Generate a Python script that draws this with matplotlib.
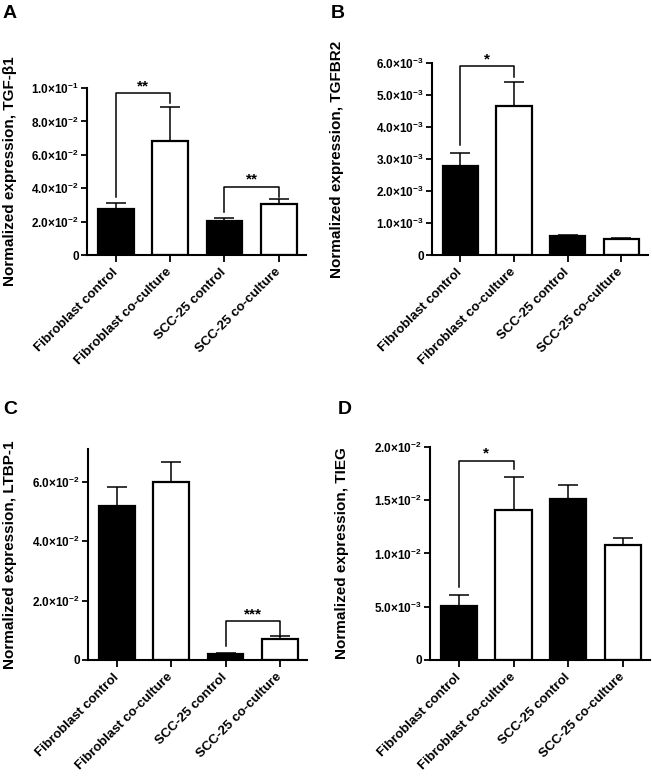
import numpy as np
import matplotlib
matplotlib.use("Agg")
import matplotlib.pyplot as plt

plt.rcParams['font.family'] = ['Liberation Sans', 'DejaVu Sans']
plt.rcParams['font.weight'] = 'bold'
plt.rcParams['mathtext.fontset'] = 'custom'
plt.rcParams['mathtext.rm'] = 'Liberation Sans:bold'
plt.rcParams['mathtext.bf'] = 'Liberation Sans:bold'
plt.rcParams['mathtext.it'] = 'Liberation Sans:bold'

grupos = ['Fibroblast control', 'Fibroblast co-culture', 'SCC-25 control', 'SCC-25 co-culture']
cores = ['black', 'white', 'black', 'white']

# TGF-b1
tgfb1_media = [0.0275, 0.0683, 0.0204, 0.0305]
tgfb1_erro = [0.0035, 0.0203, 0.0018, 0.0030]
tgfb1_ticks = [0, 0.02, 0.04, 0.06, 0.08, 0.10]
tgfb1_rotulos = ['0', r'$2.0{\times}10^{-2}$', r'$4.0{\times}10^{-2}$', r'$6.0{\times}10^{-2}$',
                 r'$8.0{\times}10^{-2}$', r'$1.0{\times}10^{-1}$']

# TGFBR2
tgfbr2_media = [2.78e-3, 4.66e-3, 0.60e-3, 0.50e-3]
tgfbr2_erro = [0.41e-3, 0.75e-3, 0.03e-3, 0.03e-3]
tgfbr2_ticks = [0, 1e-3, 2e-3, 3e-3, 4e-3, 5e-3, 6e-3]
tgfbr2_rotulos = ['0', r'$1.0{\times}10^{-3}$', r'$2.0{\times}10^{-3}$', r'$3.0{\times}10^{-3}$',
                  r'$4.0{\times}10^{-3}$', r'$5.0{\times}10^{-3}$', r'$6.0{\times}10^{-3}$']

# LTBP-1
ltbp1_media = [0.0518, 0.0598, 0.0021, 0.0071]
ltbp1_erro = [0.0064, 0.0068, 0.0002, 0.0009]
ltbp1_ticks = [0, 0.02, 0.04, 0.06]
ltbp1_rotulos = ['0', r'$2.0{\times}10^{-2}$', r'$4.0{\times}10^{-2}$', r'$6.0{\times}10^{-2}$']

# TIEG
tieg_media = [5.05e-3, 14.06e-3, 15.1e-3, 10.8e-3]
tieg_erro = [1.05e-3, 3.1e-3, 1.35e-3, 0.65e-3]
tieg_ticks = [0, 5e-3, 10e-3, 15e-3, 20e-3]
tieg_rotulos = ['0', r'$5.0{\times}10^{-3}$', r'$1.0{\times}10^{-2}$', r'$1.5{\times}10^{-2}$',
                r'$2.0{\times}10^{-2}$']

# colchetes de significancia: (i, j, altura, base esquerda, base direita, texto)
tgfb1_sig = [(0, 1, 0.097, 0.0347, 0.091, '**'), (2, 3, 0.041, 0.0257, 0.0347, '**')]
tgfbr2_sig = [(0, 1, 5.9e-3, 3.44e-3, 5.56e-3, '*')]
ltbp1_sig = [(2, 3, 0.013, 0.0047, 0.0081, '***')]
tieg_sig = [(0, 1, 18.7e-3, 6.9e-3, 17.9e-3, '*')]


def painel(ax, media, erro, ticks, rotulos, ymax, ylabel, sig, xlab):
    x = np.arange(len(grupos))
    ax.bar(x, media, width=0.66, color=cores, edgecolor='black', linewidth=1.6, zorder=2)
    ax.errorbar(x, media, yerr=[[0] * len(erro), erro], fmt='none', ecolor='black',
                elinewidth=1.1, capsize=7, capthick=1.1, zorder=3)
    for i, j, h, b1, b2, txt in sig:
        ax.plot([x[i], x[i], x[j], x[j]], [b1, h, h, b2], color='black', lw=1.1, clip_on=False)
        ax.text((x[i] + x[j]) / 2, h, txt, ha='center', va='bottom', fontsize=11, fontweight='bold')
    ax.set_xlim(-0.53, 3.5)
    ax.set_ylim(0, ymax)
    ax.spines['top'].set_visible(False)
    ax.spines['right'].set_visible(False)
    ax.spines['left'].set_linewidth(1.5)
    ax.spines['bottom'].set_linewidth(1.5)
    ax.set_yticks(ticks)
    ax.set_yticklabels(rotulos, fontsize=8.5, fontweight='bold')
    ax.set_xticks(x)
    ax.set_xticklabels(grupos, rotation=45, ha='right', va='center', rotation_mode='anchor',
                       fontsize=9.5, fontweight='bold')
    ax.tick_params(axis='y', length=4, width=1.3, pad=2)
    ax.tick_params(axis='x', length=5, width=1.3, pad=6)
    ax.set_ylabel(ylabel, fontsize=11, fontweight='bold', va='center')
    ax.yaxis.set_label_coords(xlab, 0.5)


fig = plt.figure(figsize=(6.52, 7.77), dpi=100)
axA = fig.add_axes([0.1334, 0.6718, 0.3359, 0.2149])
axB = fig.add_axes([0.6626, 0.6718, 0.3313, 0.2471])
axC = fig.add_axes([0.1350, 0.1506, 0.3359, 0.2716])
axD = fig.add_axes([0.6595, 0.1506, 0.3374, 0.2741])

painel(axA, tgfb1_media, tgfb1_erro, tgfb1_ticks, tgfb1_rotulos, 0.10,
       'Normalized expression, TGF-β1', tgfb1_sig, -0.352)
painel(axB, tgfbr2_media, tgfbr2_erro, tgfbr2_ticks, tgfbr2_rotulos, 6e-3,
       'Normalized expression, TGFBR2', tgfbr2_sig, -0.44)
painel(axC, ltbp1_media, ltbp1_erro, ltbp1_ticks, ltbp1_rotulos, 0.071,
       'Normalized expression, LTBP-1', ltbp1_sig, -0.356)
painel(axD, tieg_media, tieg_erro, tieg_ticks, tieg_rotulos, 0.02,
       'Normalized expression, TIEG', tieg_sig, -0.40)

for letra, px, py in [('A', 3, 5), ('B', 331, 5), ('C', 3, 401), ('D', 338, 401)]:
    fig.text(px / 652, 1 - py / 777, letra, ha='left', va='top', fontsize=14, fontweight='bold')

fig.savefig('out.png', dpi=100)
